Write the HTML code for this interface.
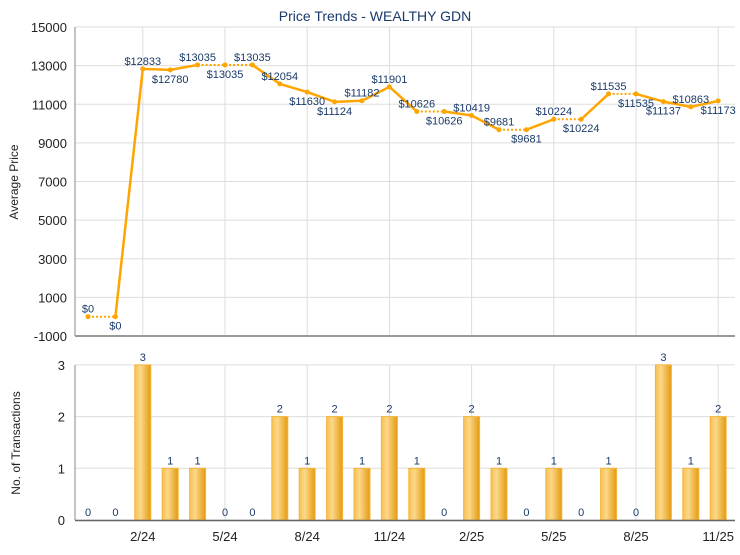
<!DOCTYPE html>
<html><head><meta charset="utf-8"><style>
html,body{margin:0;padding:0;background:#fff}
svg text{font-family:"Liberation Sans","Noto Sans CJK SC",sans-serif}
</style></head><body>
<svg id="s" width="740" height="550" xmlns="http://www.w3.org/2000/svg">
<defs><linearGradient id="bg" x1="0" x2="1" y1="0" y2="0">
<stop offset="0" stop-color="#f7c052"/><stop offset="0.35" stop-color="#fcd88a"/><stop offset="1" stop-color="#e49a10"/></linearGradient></defs>
<text x="375" y="21" text-anchor="middle" font-size="14" fill="#1a3a6a">Price Trends - WEALTHY GDN</text>
<g id="g"></g>
</svg>
<script>
var g=document.getElementById('g'),h='';
var L=75,R=735,yT=27,yB=336;
function py(v){return yT+(15000-v)*(yB-yT)/16000;}
function bx(i){return 88+i*27.4;}
// top grid
for(var v=-1000;v<=15000;v+=2000){var y=py(v);h+='<line x1="'+L+'" x2="'+R+'" y1="'+y+'" y2="'+y+'" stroke="#ddd"/>';h+='<text x="'+(L-8)+'" y="'+(y+5)+'" text-anchor="end" font-size="13" fill="#222">'+v+'</text>';}
var ti=[2,5,8,11,14,17,20,23],tl=['2/24','5/24','8/24','11/24','2/25','5/25','8/25','11/25'];
ti.forEach(function(i){var x=bx(i);h+='<line x1="'+x+'" x2="'+x+'" y1="'+yT+'" y2="'+yB+'" stroke="#ddd"/>';h+='<line x1="'+x+'" x2="'+x+'" y1="365" y2="520" stroke="#ddd"/>';});
h+='<line x1="'+L+'" x2="'+L+'" y1="'+yT+'" y2="'+yB+'" stroke="#888"/><line x1="'+L+'" x2="'+R+'" y1="'+yB+'" y2="'+yB+'" stroke="#999" stroke-width="2"/>';
h+='<text transform="translate(18,182) rotate(-90)" text-anchor="middle" font-size="12" fill="#222">Average Price</text>';
var d=[0,0,12833,12780,13035,13035,13035,12054,11630,11124,11182,11901,10626,10626,10419,9681,9681,10224,10224,11535,11535,11137,10863,11173];
var up=[1,0,1,0,1,0,1,1,0,0,1,1,1,0,1,1,0,1,0,1,0,0,1,0];
for(var i=0;i<23;i++){var dash=d[i]==d[i+1];h+='<line x1="'+bx(i)+'" y1="'+py(d[i])+'" x2="'+bx(i+1)+'" y2="'+py(d[i+1])+'" stroke="#ffa500" stroke-width="'+(dash?2:2.5)+'"'+(dash?' stroke-dasharray="2,2"':'')+'/>';}
for(var i=0;i<24;i++){var x=bx(i),y=py(d[i]);h+='<circle cx="'+x+'" cy="'+y+'" r="2.5" fill="#ffa500"/>';h+='<text x="'+x+'" y="'+(up[i]?y-4:y+13)+'" text-anchor="middle" font-size="11" fill="#1a3a6a">$'+d[i]+'</text>';}
// bottom
var b0=520,bu=51.7;
for(var v=0;v<=3;v++){var y=b0-v*bu;h+='<line x1="'+L+'" x2="'+R+'" y1="'+y+'" y2="'+y+'" stroke="#ddd"/>';h+='<text x="'+(L-10)+'" y="'+(y+5)+'" text-anchor="end" font-size="13" fill="#222">'+v+'</text>';}
var c=[0,0,3,1,1,0,0,2,1,2,1,2,1,0,2,1,0,1,0,1,0,3,1,2];
for(var i=0;i<24;i++){var x=bx(i),hh=c[i]*bu;if(c[i])h+='<rect x="'+(x-8)+'" y="'+(b0-hh)+'" width="16" height="'+hh+'" fill="url(#bg)" stroke="#f5b53a" stroke-width="1"/>';h+='<text x="'+x+'" y="'+(b0-hh-4)+'" text-anchor="middle" font-size="11" fill="#1a3a6a">'+c[i]+'</text>';}
h+='<line x1="'+L+'" x2="'+L+'" y1="365" y2="520" stroke="#888"/><line x1="'+L+'" x2="'+R+'" y1="520.5" y2="520.5" stroke="#666" stroke-width="1.5"/>';
ti.forEach(function(i,k){h+='<text x="'+bx(i)+'" y="541" text-anchor="middle" font-size="13" fill="#222">'+tl[k]+'</text>';});
h+='<text transform="translate(20,443) rotate(-90)" text-anchor="middle" font-size="12" fill="#222">No. of Transactions</text>';
g.innerHTML=h;
</script>
</body></html>
